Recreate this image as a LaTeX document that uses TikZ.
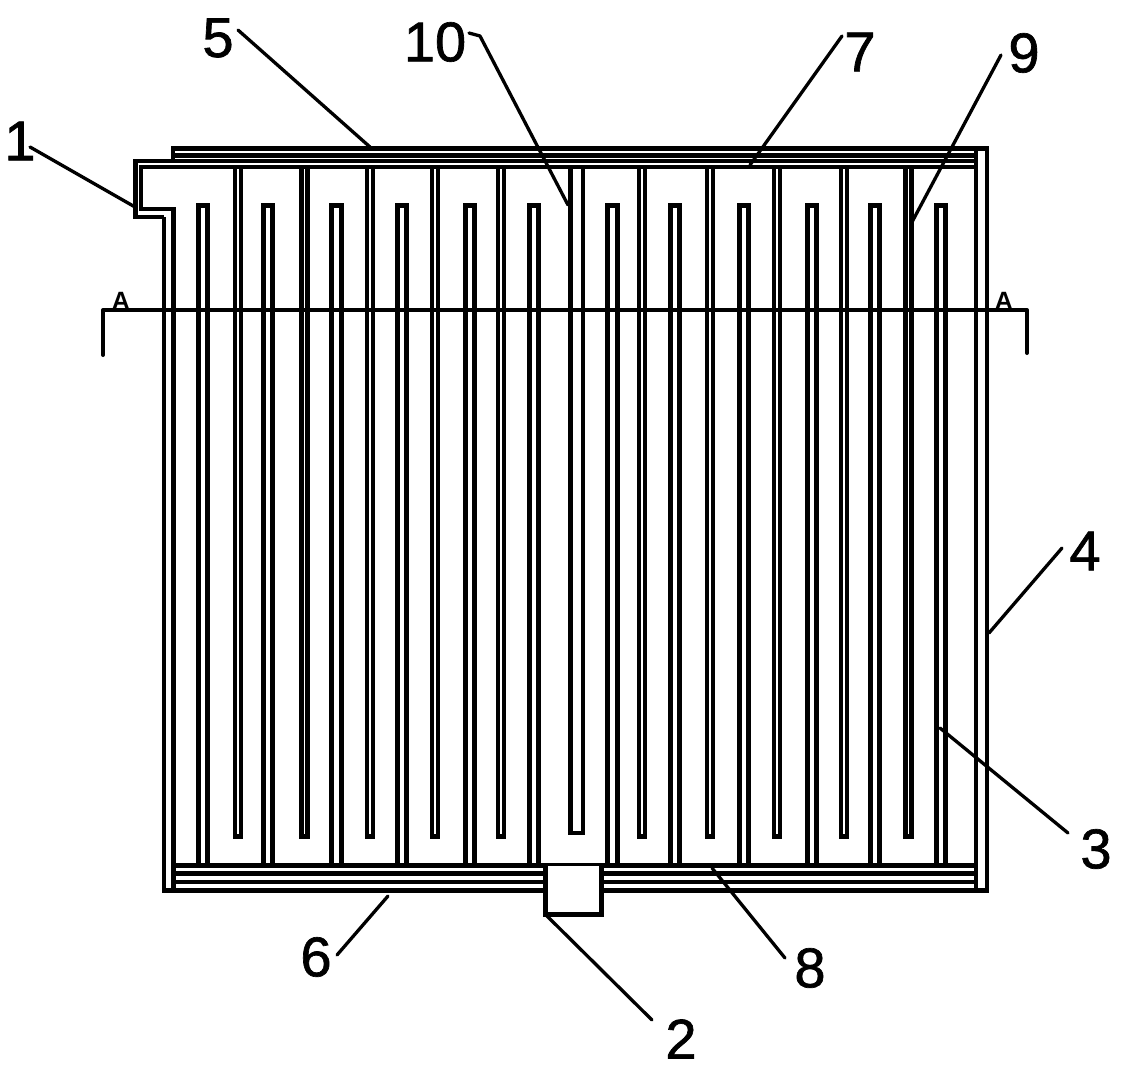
\documentclass[tikz,border=0pt]{standalone}
\usepackage{fontspec}
\setmainfont{Liberation Sans}
\newfontfamily\tagfont[FakeBold=1.2]{Liberation Sans}
\tikzset{
  wall/.style={line width=4.9pt,line join=miter,line cap=butt},
  leader/.style={line width=3.3pt,line cap=round,line join=round},
  tag/.style={font=\tagfont\fontsize{56}{56}\selectfont,inner sep=0pt},
  sectionmark/.style={font=\bfseries\fontsize{25}{25}\selectfont,inner sep=0pt},
  sectionline/.style={line width=4pt,line join=round,line cap=round}
}
\begin{document}
\begin{tikzpicture}[x=1pt,y=-1pt]
\useasboundingbox (0,0) rectangle (1124,1069);
% housing
\draw[wall] (173.5,890.5) -- (173.5,209) -- (141,209) -- (141,167) -- (976,167);
\draw[wall] (164,217) -- (135.5,217) -- (135.5,161) -- (976,161);
\draw[wall] (173,161) -- (173,148.5) -- (987,148.5) -- (987,890.5) -- (164,890.5) -- (164,217);
\draw[wall] (173,155.5) -- (976,155.5);
\draw[wall] (976,148.5) -- (976,890.5);
\draw[wall] (173.5,865.5) -- (976,865.5);
\draw[wall] (173.5,873.5) -- (976,873.5);
\draw[wall] (173.5,882) -- (976,882);
% slots open at the bottom, closed on top
\foreach \x in {203,268,336.5,402,470,534,612.5,675,744,812,875,941}{
  \draw[wall] (\x-4.6,865) -- (\x-4.6,205.5) -- (\x+4.6,205.5) -- (\x+4.6,865);
}
% slots open at the top, closed below
\foreach \x in {238,304.5,370,435,501,642,710,777,844,908.5}{
  \draw[wall] (\x-3,167) -- (\x-3,836.5) -- (\x+3,836.5) -- (\x+3,167);
}
\draw[wall] (570.5,167) -- (570.5,833) -- (583,833) -- (583,167);
% outlet box
\draw[wall,fill=white] (545.5,865.5) -- (545.5,914.5) -- (601.5,914.5) -- (601.5,865.5);
% section line
\draw[sectionline] (103,355) -- (103,310) -- (1027,310) -- (1027,353);
\node[sectionmark,anchor=south] (markL) at (121,310) {A};
\node[sectionmark,anchor=south] (markR) at (1004,310) {A};
% labels
\node[tag] (n1) at (20,141) {1};
\node[tag] (n2) at (681,1039) {2};
\node[tag] (n3) at (1096,849) {3};
\node[tag] (n4) at (1085,551) {4};
\node[tag] (n5) at (218,38) {5};
\node[tag] (n6) at (316,957) {6};
\node[tag] (n7) at (860,52) {7};
\node[tag] (n8) at (810,968) {8};
\node[tag] (n9) at (1024,53) {9};
\node[tag] (n10) at (435,42) {10};
% leader ends
\coordinate (s1) at (30,147);   \coordinate (e1) at (135,207);
\coordinate (s2) at (652,1020); \coordinate (e2) at (546,915);
\coordinate (s3) at (1068,833); \coordinate (e3) at (940,728);
\coordinate (s4) at (1062,548); \coordinate (e4) at (989,633);
\coordinate (s5) at (238,30);   \coordinate (e5) at (370,147);
\coordinate (s6) at (337,955);  \coordinate (e6) at (388,896);
\coordinate (s7) at (842,36);   \coordinate (e7) at (750,165);
\coordinate (s8) at (785,958);  \coordinate (e8) at (712,868);
\coordinate (s9) at (1001,55);  \coordinate (e9) at (912,222);
\coordinate (s10) at (469,33);  \coordinate (b10) at (480,36); \coordinate (e10) at (568,205);
\draw[leader] (s1) -- (e1);
\draw[leader] (s2) -- (e2);
\draw[leader] (s3) -- (e3);
\draw[leader] (s4) -- (e4);
\draw[leader] (s5) -- (e5);
\draw[leader] (s6) -- (e6);
\draw[leader] (s7) -- (e7);
\draw[leader] (s8) -- (e8);
\draw[leader] (s9) -- (e9);
\draw[leader] (s10) -- (b10) -- (e10);
\end{tikzpicture}
\end{document}
